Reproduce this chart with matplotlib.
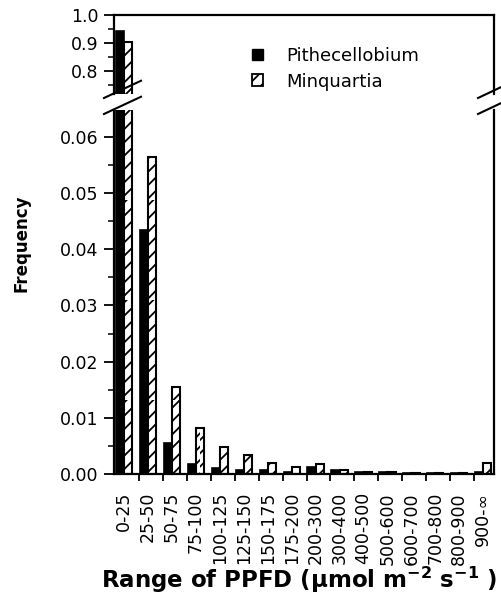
import numpy as np
import matplotlib.pyplot as plt
from matplotlib.backend_bases import GraphicsContextBase
from matplotlib.patches import Patch
from matplotlib.lines import Line2D
from matplotlib.ticker import MultipleLocator, FixedLocator

plt.rcParams['font.family'] = ['DejaVu Sans']
plt.rcParams['mathtext.fontset'] = 'custom'
plt.rcParams['mathtext.rm'] = 'DejaVu Sans:bold'
plt.rcParams['mathtext.default'] = 'rm'
plt.rcParams['hatch.linewidth'] = 1.3

# denser single hatch than the default '/' (about 13 px between slashes)
_hatch_path = GraphicsContextBase.get_hatch_path
GraphicsContextBase.get_hatch_path = lambda self, density=15.0: _hatch_path(self, density)

# PPFD classes and frequencies
categories = ["0-25", "25-50", "50-75", "75-100", "100-125", "125-150", "150-175",
              "175-200", "200-300", "300-400", "400-500", "500-600", "600-700",
              "700-800", "800-900", "900-\u221e"]
pithecellobium = [0.943, 0.0434, 0.0055, 0.0018, 0.0011, 0.0007, 0.0007, 0.0004,
                  0.0013, 0.0007, 0.0003, 0.0003, 0.0001, 0.0001, 0.0001, 0.0003]
minquartia = [0.904, 0.0564, 0.0155, 0.0082, 0.0048, 0.0034, 0.0020, 0.0012,
              0.0018, 0.0007, 0.0003, 0.0003, 0.0002, 0.0002, 0.0002, 0.0020]

W, H = 501, 600
fig = plt.figure(figsize=(W / 100, H / 100), dpi=100)

# axes edges in pixels
x_left, x_right = 114, 494
up_top, up_bot = 15, 94
lo_top, lo_bot = 110, 474

ax_up = fig.add_axes([x_left / W, 1 - up_bot / H, (x_right - x_left) / W, (up_bot - up_top) / H])
ax_lo = fig.add_axes([x_left / W, 1 - lo_bot / H, (x_right - x_left) / W, (lo_bot - lo_top) / H])

x = np.arange(len(categories))
bw = 0.34
for ax in (ax_up, ax_lo):
    ax.bar(x - bw / 2, pithecellobium, bw, color='black', edgecolor='black', linewidth=1.2)
    ax.bar(x + bw / 2, minquartia, bw, color='white', edgecolor='black', linewidth=1.5, hatch='/')
    ax.set_xlim(-0.42, 15.45)
    for s in ax.spines.values():
        s.set_linewidth(1.6)
    ax.tick_params(axis='y', which='major', length=7, width=1.3, direction='out', labelsize=12.5, pad=4)
    ax.tick_params(axis='y', which='minor', length=4, width=1.1, direction='out')

ax_up.set_ylim(1.0 - (up_bot - up_top) / 280, 1.0)
ax_up.yaxis.set_major_locator(FixedLocator([0.8, 0.9, 1.0]))
ax_up.yaxis.set_minor_locator(FixedLocator([0.75, 0.85, 0.95]))
ax_up.yaxis.set_major_formatter(plt.FuncFormatter(lambda v, p: f"{v:.1f}"))
ax_up.spines['bottom'].set_visible(False)
ax_up.set_xticks([])

ax_lo.set_ylim(0, (lo_bot - lo_top) / 5620)
ax_lo.yaxis.set_major_locator(MultipleLocator(0.01))
ax_lo.yaxis.set_minor_locator(MultipleLocator(0.005))
ax_lo.yaxis.set_major_formatter(plt.FuncFormatter(lambda v, p: f"{v:.2f}"))
ax_lo.spines['top'].set_visible(False)
ax_lo.set_xticks(x)
ax_lo.set_xticklabels(categories, rotation=90, fontsize=12.5)
ax_lo.tick_params(axis='x', which='major', length=0, pad=13)
ax_lo.xaxis.set_minor_locator(FixedLocator(x[:-1] + 0.62))
ax_lo.tick_params(axis='x', which='minor', length=5, width=1.3, direction='out')

# break marks
def slash(x0, x1, py):
    fig.add_artist(Line2D([x0 / W, x1 / W],
                          [1 - (py + 4) / H, 1 - (py - 4 - (x1 - x0) * 0.25) / H],
                          color='black', linewidth=1.5))

for y_edge in (up_bot, lo_top):
    slash(x_left - 10, x_left + 27, y_edge)
    slash(x_right - 16, x_right + 20, y_edge)

# legend
handles = [Patch(facecolor='black', edgecolor='black'),
           Patch(facecolor='white', edgecolor='black', hatch='/', linewidth=1.3)]
fig.legend(handles, ["Pithecellobium", "Minquartia"], loc='upper left',
           bbox_to_anchor=(252 / W, 1 - 47 / H), frameon=False, fontsize=13,
           handlelength=0.62, handleheight=0.62, handletextpad=1.3,
           labelspacing=0.42, borderpad=0, borderaxespad=0)

fig.text(22 / W, 1 - 243 / H, "Frequency", rotation=90, ha='center', va='center',
         fontsize=12, fontweight='bold')
fig.text(299 / W, 1 - 580 / H, "Range of PPFD (\u00b5mol m$^{-2}$ s$^{-1}$ )",
         ha='center', va='center', fontsize=16.5, fontweight='bold')

fig.savefig('out.png', dpi=100)
